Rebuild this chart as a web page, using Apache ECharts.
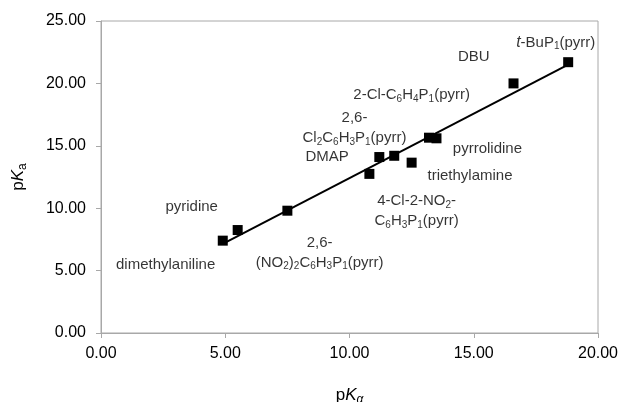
<!DOCTYPE html>
<html>
<head>
<meta charset="utf-8">
<script src="https://cdn.jsdelivr.net/npm/echarts@6/dist/echarts.min.js"></script>
<style>
  html, body { margin: 0; padding: 0; background: #fff; }
  #chart { width: 621px; height: 402px; }
</style>
</head>
<body>
<div id="chart"></div>
<script>
// measured points (pK_alpha vs pKa)
var pKalpha = [4.9, 5.5, 7.5, 10.8, 11.2, 11.8, 12.5, 13.2, 13.5, 16.6, 18.8];
var pKa     = [7.4, 8.25, 9.8, 12.75, 14.1, 14.2, 13.65, 15.65, 15.6, 20.0, 21.7];

// trend line end points
var trendX = [4.9, 18.8];
var trendY = [7.15, 21.5];

// compound names and where they sit on the plot
var names = [
  '{i|t}-BuP{s|1}(pyrr)',
  'DBU',
  '2-Cl-C{s|6}H{s|4}P{s|1}(pyrr)',
  '2,6-\nCl{s|2}C{s|6}H{s|3}P{s|1}(pyrr)',
  'DMAP',
  'pyrrolidine',
  'triethylamine',
  '4-Cl-2-NO{s|2}-\nC{s|6}H{s|3}P{s|1}(pyrr)',
  '2,6-\n(NO{s|2}){s|2}C{s|6}H{s|3}P{s|1}(pyrr)',
  'pyridine',
  'dimethylaniline'
];
var nameX = [18.3, 15.0, 12.5, 10.2, 9.1, 15.55, 14.85, 12.7, 8.8, 3.65, 2.6];
var nameY = [23.25, 22.1, 19.05, 16.4, 14.1, 14.75, 12.6, 9.75, 6.45, 10.1, 5.45];

var yTicks = ['0.00', '5.00', '10.00', '15.00', '20.00', '25.00'];
var xTicks = ['0.00', '5.00', '10.00', '15.00', '20.00'];

var font = 'Liberation Sans, Arial, sans-serif';
var gray = '#a8a8a8';

var chart = echarts.init(document.getElementById('chart'));

var pts = pKalpha.map(function (x, i) { return [x, pKa[i]]; });
var trend = trendX.map(function (x, i) { return [x, trendY[i]]; });
var tags = names.map(function (n, i) { return { value: [nameX[i], nameY[i]], name: n }; });

chart.setOption({
  animation: false,
  grid: {
    left: 101, right: 23, top: 21, bottom: 69,
    outerBoundsMode: 'none',
    containLabel: false,
    show: true, borderColor: gray, borderWidth: 1
  },
  xAxis: {
    type: 'value', min: 0, max: 20, interval: 5,
    name: '{n|p}{k|K}{s|α}',
    nameLocation: 'middle', nameGap: 52,
    nameTextStyle: {
      rich: {
        n: { fontFamily: font, fontSize: 17, color: '#000' },
        k: { fontFamily: font, fontSize: 17, fontStyle: 'italic', color: '#000' },
        s: { fontFamily: font, fontSize: 12, fontStyle: 'italic', color: '#000', padding: [9, 0, 0, 0] }
      }
    },
    axisLine: { show: true, onZero: false, lineStyle: { color: gray, width: 1 } },
    axisTick: { show: true, length: 5, lineStyle: { color: gray } },
    splitLine: { show: false },
    axisLabel: {
      fontFamily: font, fontSize: 16, color: '#000', margin: 13,
      formatter: function (v) { return xTicks[Math.round(v / 5)]; }
    }
  },
  yAxis: {
    type: 'value', min: 0, max: 25, interval: 5,
    name: '{n|p}{k|K}{s|a}',
    nameLocation: 'middle', nameGap: 72, nameRotate: 90,
    nameTextStyle: {
      rich: {
        n: { fontFamily: font, fontSize: 17, color: '#000' },
        k: { fontFamily: font, fontSize: 17, fontStyle: 'italic', color: '#000' },
        s: { fontFamily: font, fontSize: 12, color: '#000', padding: [9, 0, 0, 0] }
      }
    },
    axisLine: { show: true, onZero: false, lineStyle: { color: gray, width: 1 } },
    axisTick: { show: true, length: 5, lineStyle: { color: gray } },
    splitLine: { show: false },
    axisLabel: {
      fontFamily: font, fontSize: 16, color: '#000', margin: 15,
      formatter: function (v) { return yTicks[Math.round(v / 5)]; }
    }
  },
  series: [
    {
      type: 'line',
      data: trend,
      symbol: 'none',
      lineStyle: { color: '#000', width: 2 },
      silent: true
    },
    {
      type: 'scatter',
      data: pts,
      symbol: 'rect',
      symbolSize: 10,
      itemStyle: { color: '#000', opacity: 1 }
    },
    {
      type: 'scatter',
      data: tags,
      symbolSize: 1,
      itemStyle: { color: 'rgba(0,0,0,0)' },
      silent: true,
      label: {
        show: true,
        position: 'inside',
        formatter: function (p) { return p.name; },
        fontFamily: font, fontSize: 15, color: '#000',
        align: 'center', verticalAlign: 'middle',
        lineHeight: 20,
        rich: {
          s: { fontFamily: font, fontSize: 10, color: '#000', padding: [7, 0, 0, 0], lineHeight: 20 },
          i: { fontFamily: font, fontSize: 16, fontStyle: 'italic', color: '#000', lineHeight: 20 }
        }
      }
    }
  ]
});
</script>
</body>
</html>
